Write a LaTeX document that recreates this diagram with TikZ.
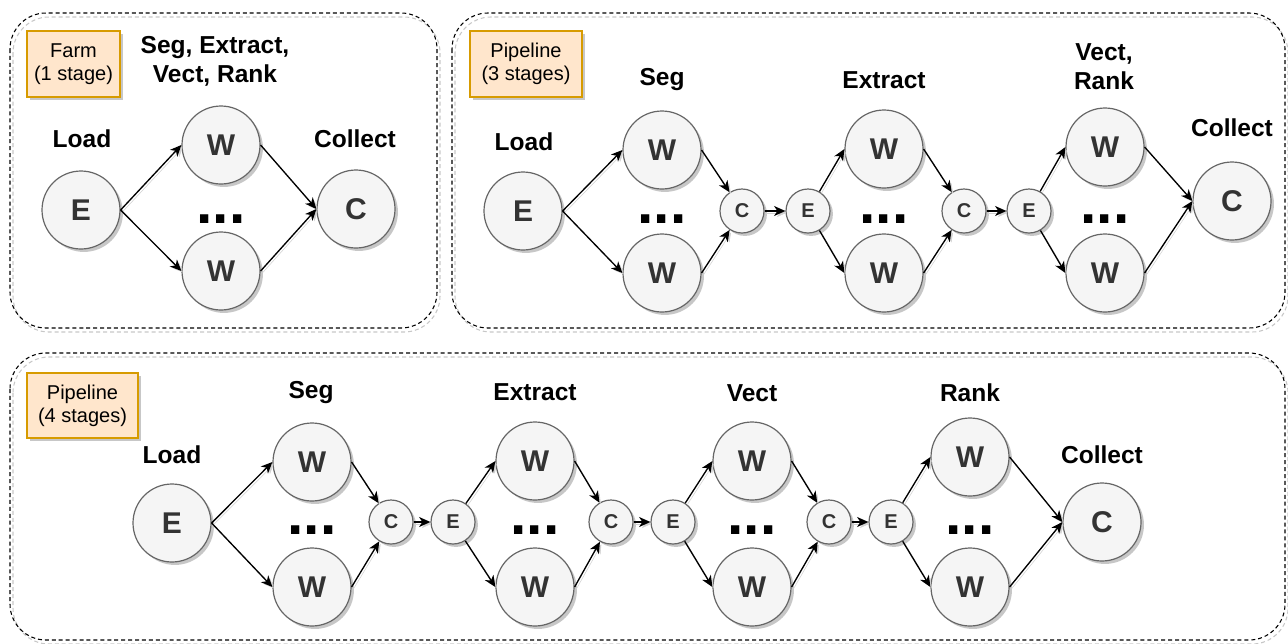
\documentclass[tikz,border=0pt]{standalone}
\usepackage{fontspec}
\setmainfont{Liberation Sans}
\usetikzlibrary{arrows.meta,shadows}
\definecolor{nodefill}{HTML}{F5F5F5}
\definecolor{nodeline}{HTML}{666666}
\definecolor{nodetext}{HTML}{333333}
\definecolor{tagfill}{HTML}{FFE6CC}
\definecolor{tagline}{HTML}{D79B00}

\tikzset{
  bigc/.style={circle, draw=nodeline, fill=nodefill, line width=0.9pt,
    minimum size=58.5pt, inner sep=0pt, text=nodetext,
    font=\fontsize{22.5}{22.5}\selectfont\bfseries,
    general shadow={fill=black!22, shadow xshift=2.2pt, shadow yshift=-2.2pt}},
  smallc/.style={bigc, minimum size=33pt, font=\fontsize{15}{15}\selectfont\bfseries},
  lbl/.style={font=\fontsize{18.4}{21.75}\selectfont\bfseries, align=center, inner sep=0pt},
  tag/.style={draw=tagline, fill=tagfill, line width=0.9pt,
    font=\fontsize{15}{17}\selectfont, align=center, inner sep=0pt,
    general shadow={fill=black!22, shadow xshift=2.5pt, shadow yshift=-2.5pt}},
  dotsrow/.style={font=\fontsize{44}{44}\selectfont\bfseries, inner sep=0pt, anchor=base},
  flow/.style={-{Stealth[length=8.5pt,width=7.5pt,inset=2.5pt]}, line width=1pt,
    preaction={draw=black!18, transform canvas={xshift=1.4pt,yshift=-1.4pt}}},
  panel/.style={draw, dash pattern=on 3pt off 2.2pt, rounded corners=27pt, line width=0.8pt},
  panelshadow/.style={panel, draw=black!22},
}

\begin{document}
\begin{tikzpicture}[x=0.75pt, y=-0.75pt]
\useasboundingbox (0,0) rectangle (1288,643);

% ---------- frames ----------
\draw[panelshadow] (13,17) rectangle (440,332);
\draw[panel] (10,13) rectangle (437,328);
\draw[panelshadow] (455,17) rectangle (1288,332);
\draw[panel] (452,13) rectangle (1285,328);
\draw[panelshadow] (13,357) rectangle (1288,644);
\draw[panel] (10,353) rectangle (1285,640);

% ---------- Farm (1 stage) ----------
\node[tag, minimum width=69.75pt, minimum height=49.5pt] (tag1) at (73.5,64) {Farm\\(1 stage)};
\node[lbl] (l1s) at (215,61) {Seg, Extract,\\Vect, Rank};
\node[lbl] (l1l) at (82,139) {Load};
\node[lbl] (l1c) at (355,139) {Collect};

\node[bigc] (E1) at (81,210) {E};
\node[bigc] (W1a) at (221,145) {W};
\node[bigc] (W1b) at (221,271) {W};
\node[bigc] (C1) at (356,209) {C};
\node[dotsrow] (d1) at (221,223) {...};

\draw[flow] (E1.east) -- (W1a.west);
\draw[flow] (E1.east) -- (W1b.west);
\draw[flow] (W1a.east) -- (C1.west);
\draw[flow] (W1b.east) -- (C1.west);

% ---------- Pipeline (3 stages) ----------
\node[tag, minimum width=84pt, minimum height=49.5pt] (tag2) at (526,64) {Pipeline\\(3 stages)};
\node[lbl] (l2l) at (524,142) {Load};
\node[lbl] (l2s) at (662,80) {Seg};
\node[lbl] (l2x) at (884,80) {Extract};
\node[lbl] (l2v) at (1104,67) {Vect,\\Rank};
\node[lbl] (l2c) at (1232,128) {Collect};

\node[bigc] (E2) at (523,211) {E};
\node[bigc] (W2a) at (662,150) {W};
\node[bigc] (W2b) at (662,273) {W};
\node[smallc] (c2a) at (742,211) {C};
\node[smallc] (e2a) at (808,211) {E};
\node[bigc] (W2c) at (884,149) {W};
\node[bigc] (W2d) at (884,273) {W};
\node[smallc] (c2b) at (964,211) {C};
\node[smallc] (e2b) at (1029,211) {E};
\node[bigc] (W2e) at (1105,147) {W};
\node[bigc] (W2f) at (1105,273) {W};
\node[bigc] (C2) at (1232,201) {C};
\node[dotsrow] (d2a) at (662,223) {...};
\node[dotsrow] (d2b) at (884,223) {...};
\node[dotsrow] (d2c) at (1105,223) {...};

\draw[flow] (E2.east) -- (W2a.west);
\draw[flow] (E2.east) -- (W2b.west);
\draw[flow] (W2a.east) -- (c2a);
\draw[flow] (W2b.east) -- (c2a);
\draw[flow] (c2a) -- (e2a);
\draw[flow] (e2a) -- (W2c.west);
\draw[flow] (e2a) -- (W2d.west);
\draw[flow] (W2c.east) -- (c2b);
\draw[flow] (W2d.east) -- (c2b);
\draw[flow] (c2b) -- (e2b);
\draw[flow] (e2b) -- (W2e.west);
\draw[flow] (e2b) -- (W2f.west);
\draw[flow] (W2e.east) -- (C2.west);
\draw[flow] (W2f.east) -- (C2.west);

% ---------- Pipeline (4 stages) ----------
\node[tag, minimum width=83.25pt, minimum height=48.75pt] (tag3) at (82.5,405.5) {Pipeline\\(4 stages)};
\node[lbl] (l3l) at (172,455) {Load};
\node[lbl] (l3s) at (311,393) {Seg};
\node[lbl] (l3x) at (535,392) {Extract};
\node[lbl] (l3v) at (752,393) {Vect};
\node[lbl] (l3r) at (970,393) {Rank};
\node[lbl] (l3c) at (1102,455) {Collect};

\node[bigc] (E3) at (172,523) {E};
\node[bigc] (W3a) at (312,462) {W};
\node[bigc] (W3b) at (312,587) {W};
\node[smallc] (c3a) at (391,522) {C};
\node[smallc] (e3a) at (453,522) {E};
\node[bigc] (W3c) at (535,461) {W};
\node[bigc] (W3d) at (535,587) {W};
\node[smallc] (c3b) at (611,522) {C};
\node[smallc] (e3b) at (673,522) {E};
\node[bigc] (W3e) at (752,461) {W};
\node[bigc] (W3f) at (752,587) {W};
\node[smallc] (c3c) at (829,522) {C};
\node[smallc] (e3c) at (891,522) {E};
\node[bigc] (W3g) at (970,457) {W};
\node[bigc] (W3h) at (970,587) {W};
\node[bigc] (C3) at (1102,522) {C};
\node[dotsrow] (d3a) at (312,534) {...};
\node[dotsrow] (d3b) at (535,534) {...};
\node[dotsrow] (d3c) at (752,534) {...};
\node[dotsrow] (d3d) at (970,534) {...};

\draw[flow] (E3.east) -- (W3a.west);
\draw[flow] (E3.east) -- (W3b.west);
\draw[flow] (W3a.east) -- (c3a);
\draw[flow] (W3b.east) -- (c3a);
\draw[flow] (c3a) -- (e3a);
\draw[flow] (e3a) -- (W3c.west);
\draw[flow] (e3a) -- (W3d.west);
\draw[flow] (W3c.east) -- (c3b);
\draw[flow] (W3d.east) -- (c3b);
\draw[flow] (c3b) -- (e3b);
\draw[flow] (e3b) -- (W3e.west);
\draw[flow] (e3b) -- (W3f.west);
\draw[flow] (W3e.east) -- (c3c);
\draw[flow] (W3f.east) -- (c3c);
\draw[flow] (c3c) -- (e3c);
\draw[flow] (e3c) -- (W3g.west);
\draw[flow] (e3c) -- (W3h.west);
\draw[flow] (W3g.east) -- (C3.west);
\draw[flow] (W3h.east) -- (C3.west);
\end{tikzpicture}
\end{document}
